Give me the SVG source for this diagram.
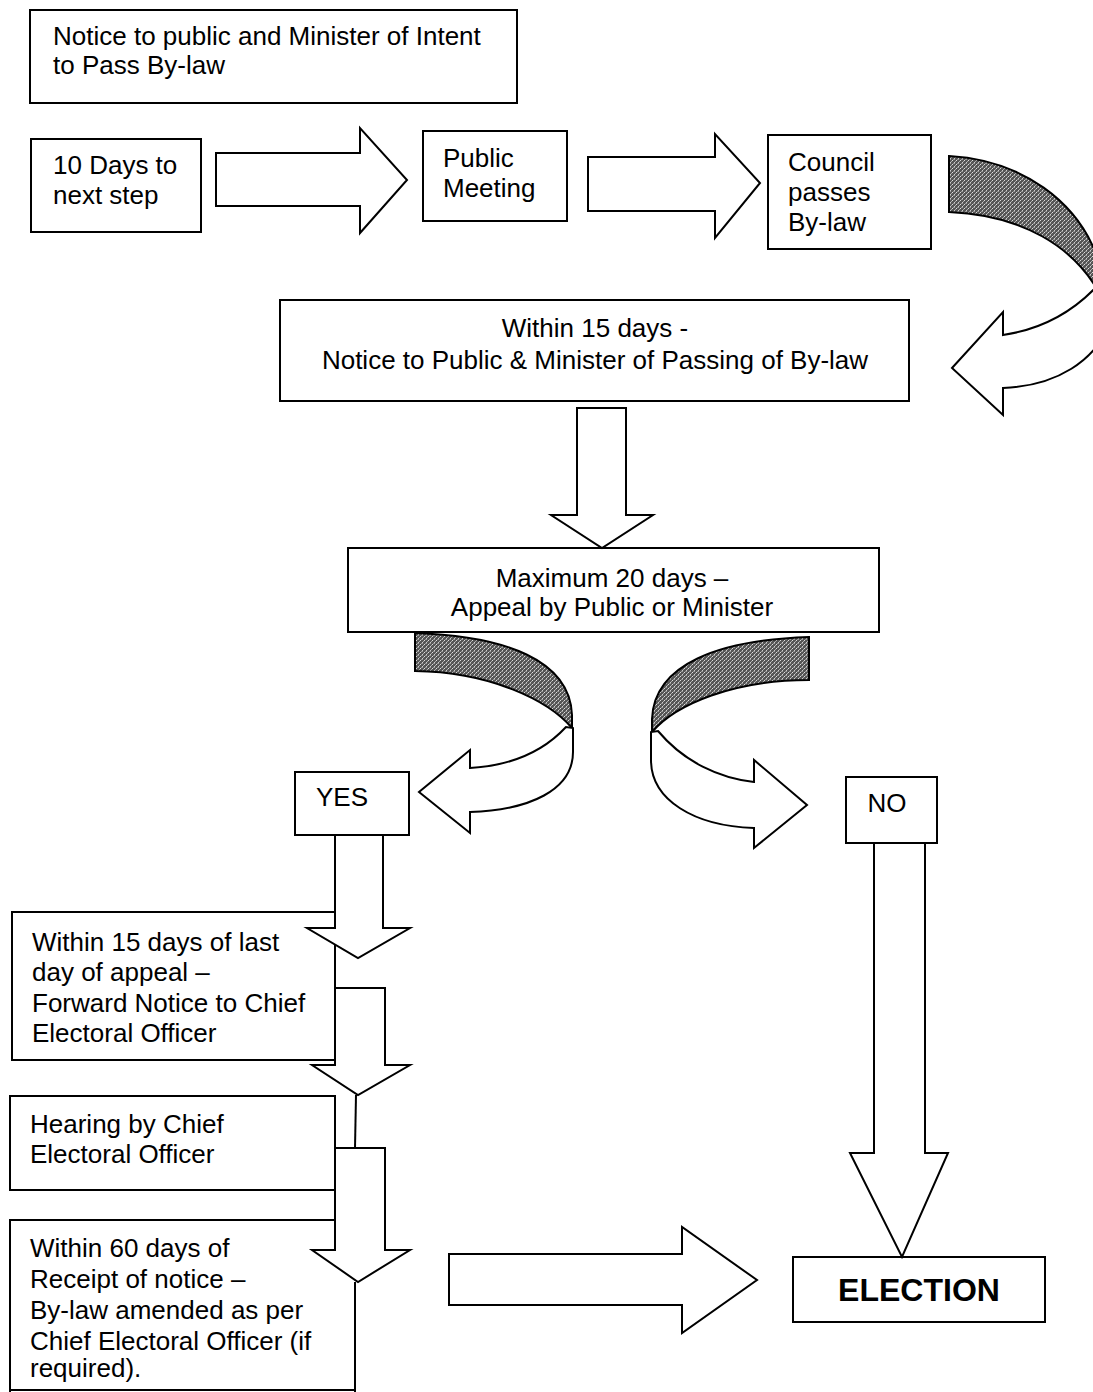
<svg xmlns="http://www.w3.org/2000/svg" width="1093" height="1392" viewBox="0 0 1093 1392">
<defs>
<pattern id="shade" width="4" height="4" patternUnits="userSpaceOnUse">
<rect width="4" height="4" fill="#555"/>
<rect x="0" y="0" width="1" height="1" fill="#ddd"/>
<rect x="2" y="2" width="1" height="1" fill="#ccc"/>
<rect x="1" y="3" width="2" height="1" fill="#999"/>
<rect x="3" y="1" width="1" height="1" fill="#aaa"/>
</pattern>
</defs>
<style>
.box{fill:#fff;stroke:#000;stroke-width:2}
.ln{fill:none;stroke:#000;stroke-width:2}
.arr{fill:#fff;stroke:#000;stroke-width:2;stroke-linejoin:miter}
.sh{fill:url(#shade);stroke:#000;stroke-width:2}
.t{font-family:"Liberation Sans",Arial,sans-serif;font-size:26px;fill:#000}
.c{text-anchor:middle}
.b{font-weight:bold;font-size:32px}
</style>
<rect width="1093" height="1392" fill="#fff"/>

<g id="n1"><rect class="box" x="30" y="10" width="487" height="93"/>
<text class="t" x="53" y="45">Notice to public and Minister of Intent</text>
<text class="t" x="53" y="74">to Pass By-law</text></g>

<g id="n2"><rect class="box" x="31" y="139" width="170" height="93"/>
<text class="t" x="53" y="174">10 Days to</text>
<text class="t" x="53" y="204">next step</text></g>

<g id="n3"><rect class="box" x="423" y="131" width="144" height="90"/>
<text class="t" x="443" y="167">Public</text>
<text class="t" x="443" y="197">Meeting</text></g>

<g id="n4"><rect class="box" x="768" y="135" width="163" height="114"/>
<text class="t" x="788" y="171">Council</text>
<text class="t" x="788" y="201">passes</text>
<text class="t" x="788" y="231">By-law</text></g>

<g id="n5"><rect class="box" x="280" y="300" width="629" height="101"/>
<text class="t c" x="595" y="337">Within 15 days -</text>
<text class="t c" x="595" y="369">Notice to Public &amp; Minister of Passing of By-law</text></g>

<g id="n6"><rect class="box" x="348" y="548" width="531" height="84"/>
<text class="t c" x="612" y="587">Maximum 20 days –</text>
<text class="t c" x="612" y="616">Appeal by Public or Minister</text></g>

<g id="n7"><rect class="box" x="295" y="772" width="114" height="63"/>
<text class="t c" x="342" y="806">YES</text></g>

<g id="n8"><rect class="box" x="846" y="777" width="91" height="66"/>
<text class="t c" x="887" y="812">NO</text></g>

<g id="n9"><rect class="box" x="12" y="912" width="323" height="148"/>
<text class="t" x="32" y="951">Within 15 days of last</text>
<text class="t" x="32" y="981">day of appeal –</text>
<text class="t" x="32" y="1012">Forward Notice to Chief</text>
<text class="t" x="32" y="1042">Electoral Officer</text></g>

<g id="n10"><rect class="box" x="10" y="1096" width="325" height="94"/>
<text class="t" x="30" y="1133">Hearing by Chief</text>
<text class="t" x="30" y="1163">Electoral Officer</text></g>

<g id="n11"><path class="ln" d="M10,1392 L10,1220 L335,1220 M355,1282 L355,1392 M10,1390 L355,1390"/>
<text class="t" x="30" y="1257">Within 60 days of</text>
<text class="t" x="30" y="1288">Receipt of notice –</text>
<text class="t" x="30" y="1319">By-law amended as per</text>
<text class="t" x="30" y="1350">Chief Electoral Officer (if</text>
<text class="t" x="30" y="1377">required).</text></g>

<g id="n12"><rect class="box" x="793" y="1257" width="252" height="65"/>
<text class="t c b" x="919" y="1301">ELECTION</text></g>

<g id="connectors">
<polygon class="arr" points="216,153 360,153 360,128 407,180 360,233 360,206 216,206"/>
<polygon class="arr" points="588,157 715,157 715,134 760,183 715,238 715,211 588,211"/>
<path class="sh" d="M949,156 C1020,160 1080,200 1100,265 L1102,298 C1075,245 1020,215 949,212 Z"/>
<path class="arr" d="M1112,268 C1085,305 1050,328 1003,335 L1003,312 L952,368 L1003,415 L1003,388 C1055,386 1097,362 1112,318 Z"/>
<polygon class="arr" points="577,408 626,408 626,515 653,515 602,548 551,515 577,515"/>
<path class="sh" d="M415,633 C505,636 570,660 572,715 L572,728 C548,700 490,672 415,671 Z"/>
<path class="arr" d="M566,727 C540,755 505,766 470,768 L470,750 L419,792 L470,833 L470,812 C530,810 573,790 573,752 L573,728 Z"/>
<path class="sh" d="M809,637 C719,640 654,664 652,719 L652,732 C676,704 734,680 809,680 Z"/>
<path class="arr" d="M658,731 C684,762 719,778 754,782 L754,760 L807,805 L754,848 L754,828 C694,826 651,800 651,760 L651,732 Z"/>
<polygon class="arr" points="335,835 383,835 383,928 410,928 358,958 307,928 335,928"/>
<polygon class="arr" points="335,988 385,988 385,1065 410,1065 358,1095 312,1065 335,1065"/>
<path class="ln" d="M356,1095 L355,1148"/>
<polygon class="arr" points="335,1148 385,1148 385,1250 410,1250 358,1282 312,1250 335,1250"/>
<polygon class="arr" points="874,843 925,843 925,1153 948,1153 902,1257 850,1153 874,1153"/>
<polygon class="arr" points="449,1254 682,1254 682,1227 757,1280 682,1333 682,1305 449,1305"/>
</g>
</svg>
